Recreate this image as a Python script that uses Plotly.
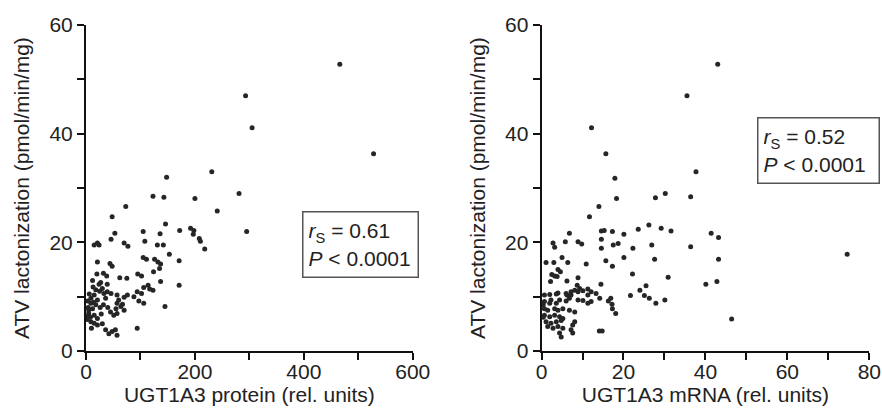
import plotly.graph_objects as go

# ---- Left panel: UGT1A3 protein vs ATV lactonization ----
protein_x = [466, 293, 305, 528, 231, 148, 281, 123, 143, 200, 73, 241, 48, 295, 146, 105, 136, 172, 192, 198,
             197, 208, 210, 218, 108, 131, 142, 153, 171, 105, 111, 126, 132, 137, 135, 124, 137, 171, 102, 95,
             114, 106, 117, 123, 102, 94, 106, 97, 145, 94, 53, 21, 15, 24, 46, 70, 77, 21, 44, 48,
             20, 32, 38, 62, 75, 24, 39, 30, 39, 13, 18, 15, 9, 21, 46, 57, 70, 76, 33, 36,
             60, 88, 9, 18, 12, 57, 64, 55, 5, 15, 21, 45, 51, 57, 9, 15, 21, 36, 42, 48,
             54, 57, 3, 4, 3, 5, 8, 2, 10, 26, 28, 14, 25, 6, 32, 40, 30, 67, 70, 27, 12]
protein_y = [52.8, 47.0, 41.1, 36.3, 33.0, 32.0, 29.0, 28.5, 28.3, 28.1, 26.6, 25.8, 24.7, 22.0, 23.4, 22.0, 21.6, 22.2, 22.6, 22.2,
             21.5, 20.7, 20.2, 18.8, 20.2, 19.5, 19.5, 17.8, 16.6, 17.2, 16.9, 16.9, 16.4, 16.0, 15.2, 14.6, 12.8, 12.1, 13.8, 14.2,
             12.1, 11.7, 11.4, 11.2, 10.6, 10.9, 8.8, 9.2, 8.2, 4.2, 21.7, 19.9, 19.5, 19.5, 20.6, 19.9, 19.3, 16.4, 16.1, 15.6,
             14.2, 14.3, 13.8, 13.5, 13.4, 12.3, 12.3, 11.5, 10.9, 11.8, 11.3, 10.3, 9.7, 9.4, 10.6, 10.3, 9.9, 10.3, 10.6, 9.7,
             9.4, 10.0, 8.8, 8.5, 7.8, 8.8, 8.2, 7.8, 6.9, 6.6, 6.0, 7.2, 6.6, 6.9, 5.4, 5.1, 4.8, 3.9, 3.2, 3.6,
             3.9, 2.9, 9.2, 8.0, 6.4, 7.5, 6.2, 5.8, 4.2, 8.0, 6.8, 9.0, 11.0, 10.5, 8.5, 8.0, 5.0, 8.6, 7.5, 12.6, 13.0]

# ---- Right panel: UGT1A3 mRNA vs ATV lactonization ----
mrna_x = [43.0, 35.5, 12.2, 15.7, 37.7, 17.9, 30.2, 27.8, 36.4, 18.3, 14.0, 11.7, 26.2, 23.6, 29.2, 31.6, 41.4, 43.2, 22.3, 26.9,
          36.4, 20.1, 27.6, 43.2, 22.2, 30.9, 40.1, 42.8, 21.7, 24.0, 25.5, 25.1, 26.3, 27.9, 30.1, 46.4, 74.6, 14.1, 14.8, 16.9,
          16.3, 17.2, 17.3, 18.1, 14.6, 15.3, 14.6, 14.6, 15.7, 17.3, 17.5, 18.7, 20.1, 17.3, 14.5, 10.9, 6.8, 2.8, 3.2, 5.8,
          8.9, 9.8, 1.1, 3.0, 5.0, 6.4, 4.0, 4.6, 2.5, 3.2, 3.8, 2.2, 6.2, 8.9, 8.7, 9.3, 8.1, 10.1, 7.2, 11.3,
          12.1, 11.3, 13.3, 14.2, 0.7, 2.0, 3.6, 4.0, 6.2, 6.8, 6.0, 0.7, 2.3, 8.9, 10.1, 12.1, 11.3, 6.0, 7.2, 8.9,
          2.0, 3.6, 4.4, 0.7, 1.5, 3.2, 4.0, 5.2, 6.8, 8.1, 0.7, 2.0, 3.2, 4.4, 5.2, 1.1, 2.3, 3.6, 4.8, 1.5,
          2.8, 4.0, 5.2, 7.2, 4.4, 7.6, 4.8, 8.1, 7.6, 0.4, 0.4]
mrna_y = [52.8, 47.0, 41.1, 36.3, 33.0, 31.8, 29.0, 28.2, 28.4, 28.1, 26.6, 24.7, 23.2, 22.4, 22.6, 22.1, 21.7, 20.9, 18.9, 19.5,
          19.2, 17.2, 16.9, 16.9, 14.2, 13.6, 12.3, 12.8, 10.2, 11.2, 12.0, 10.2, 9.7, 8.8, 9.4, 5.9, 17.8, 3.7, 3.7, 9.7,
          9.2, 8.6, 7.8, 6.9, 22.1, 22.2, 20.6, 18.9, 16.6, 15.6, 19.5, 19.8, 21.5, 22.0, 12.3, 16.0, 21.7, 19.9, 19.1, 20.1,
          20.1, 19.7, 16.3, 16.3, 17.2, 16.3, 15.0, 14.6, 14.1, 13.8, 13.7, 12.8, 12.9, 13.5, 12.1, 11.5, 11.2, 11.1, 10.3, 11.4,
          10.9, 10.3, 10.6, 9.7, 10.3, 10.4, 10.5, 10.7, 10.3, 9.7, 9.2, 9.1, 9.4, 9.4, 9.3, 9.1, 8.8, 10.6, 10.9, 10.9,
          8.8, 8.8, 9.4, 7.8, 7.5, 7.8, 7.5, 7.8, 7.5, 7.2, 6.6, 6.3, 6.6, 6.3, 6.0, 5.4, 5.1, 5.4, 5.6, 4.5,
          4.2, 4.5, 4.2, 3.9, 3.3, 3.3, 2.6, 5.4, 4.8, 8.5, 6.2]

y_tickvals = [0, 20, 40, 60]
y_minorvals = [10, 30, 50]
x1_tickvals = [0, 200, 400, 600]
x1_minorvals = [100, 300, 500]
x2_tickvals = [0, 20, 40, 60, 80]
x2_minorvals = [10, 30, 50, 70]

y_title = "ATV lactonization (pmol/min/mg)"
x1_title = "UGT1A3 protein (rel. units)"
x2_title = "UGT1A3 mRNA (rel. units)"
stats_left = "<i>r</i><sub>S</sub> = 0.61<br><i>P</i> &lt; 0.0001"
stats_right = "<i>r</i><sub>S</sub> = 0.52<br><i>P</i> &lt; 0.0001"

FONT = "Liberation Sans, Arial, sans-serif"
TXT = "#222222"
FS = 21
marker = dict(size=5, color="#262626")

fig = go.Figure()
fig.add_trace(go.Scatter(x=protein_x, y=protein_y, mode="markers", marker=marker,
                         xaxis="x", yaxis="y", cliponaxis=False, showlegend=False))
fig.add_trace(go.Scatter(x=mrna_x, y=mrna_y, mode="markers", marker=marker,
                         xaxis="x2", yaxis="y2", cliponaxis=False, showlegend=False))

axis_common = dict(showgrid=False, zeroline=False, showline=True, linecolor="#111111", linewidth=2,
                   ticks="outside", ticklen=7, tickwidth=2, tickcolor="#111111",
                   tickfont=dict(family=FONT, size=FS, color=TXT),
                   title_font=dict(family=FONT, size=FS, color=TXT), mirror=False,
                   automargin=False, tickmode="array")


def minor(vals):
    return dict(tickmode="array", tickvals=vals, ticks="outside", ticklen=7,
                tickwidth=2, tickcolor="#111111", showgrid=False)


fig.update_layout(
    width=882, height=412,
    margin=dict(l=0, r=0, t=0, b=0, autoexpand=False),
    paper_bgcolor="white", plot_bgcolor="white",
    font=dict(family=FONT, color=TXT),
    xaxis=dict(domain=[0.0975, 0.468], range=[0, 600], anchor="y",
               tickvals=x1_tickvals, minor=minor(x1_minorvals), ticklabelstandoff=-6,
               title=dict(text=x1_title, standoff=0), **axis_common),
    yaxis=dict(domain=[0.148, 0.939], range=[0, 60], anchor="x",
               tickvals=y_tickvals, minor=minor(y_minorvals),
               title=dict(text=y_title, standoff=14), **axis_common),
    xaxis2=dict(domain=[0.614, 0.9856], range=[0, 80], anchor="y2",
                tickvals=x2_tickvals, minor=minor(x2_minorvals), ticklabelstandoff=-6,
                title=dict(text=x2_title, standoff=0), **axis_common),
    yaxis2=dict(domain=[0.148, 0.939], range=[0, 60], anchor="x2",
                tickvals=y_tickvals, minor=minor(y_minorvals),
                title=dict(text=y_title, standoff=14), **axis_common),
    annotations=[
        dict(text=stats_left, xref="paper", yref="paper", x=0.342, y=0.4886,
             xanchor="left", yanchor="top", showarrow=False, align="left",
             font=dict(family=FONT, size=FS, color=TXT),
             bordercolor="#555555", borderwidth=1.5, borderpad=5, bgcolor="white",
             width=104, height=54),
        dict(text=stats_right, xref="paper", yref="paper", x=0.858, y=0.7153,
             xanchor="left", yanchor="top", showarrow=False, align="left",
             font=dict(family=FONT, size=FS, color=TXT),
             bordercolor="#555555", borderwidth=1.5, borderpad=5, bgcolor="white",
             width=110, height=54),
    ],
)

fig.write_html("out.html")
